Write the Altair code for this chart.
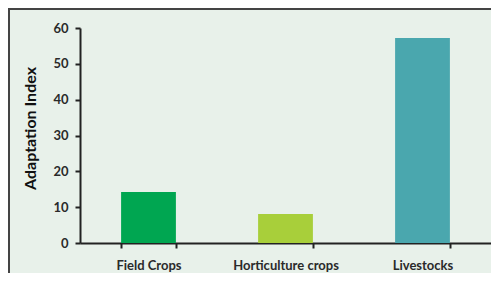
import altair as alt
import pandas as pd

categories = ["Field Crops", "Horticulture crops", "Livestocks"]
values = [14.2, 8.1, 57.2]
colors = ["#00a651", "#a8cf3a", "#4aa7ae"]

df = pd.DataFrame({"cat": categories, "val": values, "col": colors})

W, H = 411, 215
FONT = "Lato"

bars = alt.Chart(df).mark_bar().encode(
    x=alt.X("cat:N", sort=categories, title=None,
            scale=alt.Scale(paddingInner=0.6, paddingOuter=0.3),
            axis=alt.Axis(labelAngle=0, tickBand="extent", domainColor="#222222",
                          domainWidth=2, tickColor="#222222", tickWidth=2, tickSize=5,
                          labelFont=FONT, labelFontWeight="bold", labelFontSize=13,
                          labelColor="#2a2a2a", labelPadding=11, grid=False)),
    y=alt.Y("val:Q", title="Adaptation Index",
            scale=alt.Scale(domain=[0, 60], nice=False),
            axis=alt.Axis(values=[0, 10, 20, 30, 40, 50, 60], domainColor="#222222",
                          domainWidth=2, tickColor="#222222", tickWidth=2, tickSize=5,
                          labelFont=FONT, labelFontWeight="bold", labelFontSize=13,
                          labelColor="#2a2a2a", labelPadding=7, grid=False,
                          titleFont=FONT, titleFontWeight="bold", titleFontSize=16,
                          titleColor="#111111", titleX=-50, titleY=100,
                          titleBaseline="middle", titleAlign="center")),
    color=alt.Color("col:N", scale=None),
)

frame_left = alt.Chart(df).mark_rule(color="#444444", strokeWidth=2).encode(
    x=alt.value(-71), y=alt.value(-20), y2=alt.value(260)
)
frame_top = alt.Chart(df).mark_rule(color="#444444", strokeWidth=2).encode(
    x=alt.value(-72), x2=alt.value(430), y=alt.value(-19)
)

chart = alt.layer(bars, frame_left, frame_top).properties(
    width=W, height=H, background="#e8f1ea",
    autosize=alt.AutoSizeParams(type="none"),
    padding={"left": 72, "top": 20, "right": 0, "bottom": 30},
).configure_view(stroke=None)

chart.save("out.html", embed_options={"renderer": "svg", "actions": False})
